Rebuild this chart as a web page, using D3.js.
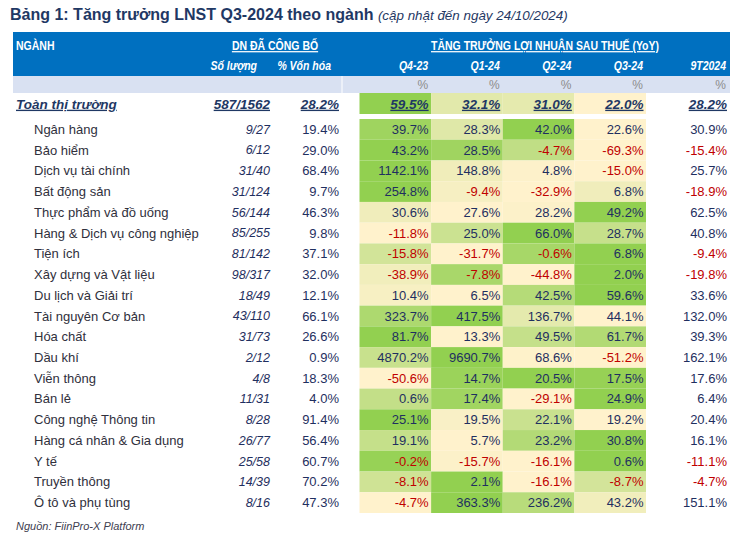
<!DOCTYPE html>
<html><head><meta charset="utf-8">
<script src="https://cdn.jsdelivr.net/npm/d3@7"></script>
<style>
body{margin:0;background:#fff}
text{font-family:"Liberation Sans",Arial,sans-serif}
.hd{font-weight:bold;fill:#fff}
</style>
</head><body>
<svg id="c" width="747" height="544"></svg>
<script>
const sectors=["Ngân hàng","Bảo hiểm","Dịch vụ tài chính","Bất động sản","Thực phẩm và đồ uống","Hàng & Dịch vụ công nghiệp","Tiện ích","Xây dựng và Vật liệu","Du lịch và Giải trí","Tài nguyên Cơ bản","Hóa chất","Dầu khí","Viễn thông","Bán lẻ","Công nghệ Thông tin","Hàng cá nhân & Gia dụng","Y tế","Truyền thông","Ô tô và phụ tùng"];
const counts=["9/27","6/12","31/40","31/124","56/144","85/255","81/142","98/317","18/49","43/110","31/73","2/12","4/8","11/31","8/28","26/77","25/58","14/39","8/16"];
const capShare=[19.4,29.0,68.4,9.7,46.3,9.8,37.1,32.0,12.1,66.1,26.6,0.9,18.3,4.0,91.4,56.4,60.7,70.2,47.3];
const periods=["Q4-23","Q1-24","Q2-24","Q3-24"];
const q423=[39.7,43.2,1142.1,254.8,30.6,-11.8,-15.8,-38.9,10.4,323.7,81.7,4870.2,-50.6,0.6,25.1,19.1,-0.2,-8.1,-4.7];
const q124=[28.3,28.5,148.8,-9.4,27.6,25.0,-31.7,-7.8,6.5,417.5,13.3,9690.7,14.7,17.4,19.5,5.7,-15.7,2.1,363.3];
const q224=[42.0,-4.7,4.8,-32.9,28.2,66.0,-0.6,-44.8,42.5,136.7,49.5,68.6,20.5,-29.1,22.1,23.2,-16.1,-16.1,236.2];
const q324=[22.6,-69.3,-15.0,6.8,49.2,28.7,6.8,2.0,59.6,44.1,61.7,-51.2,17.5,24.9,19.2,30.8,0.6,-8.7,43.2];
const y9t=[30.9,-15.4,25.7,-18.9,62.5,40.8,-9.4,-19.8,33.6,132.0,39.3,162.1,17.6,6.4,20.4,16.1,-11.1,-4.7,151.1];
const totalName="Toàn thị trường", totalCount="587/1562", totalCap=28.2;
const totalQ=[59.5,32.1,31.0,22.0], totalY9=28.2;

const svg=d3.select("#c");
const fmt=v=>v.toFixed(1)+"%";
const NAVY="#1F2F60", NEG="#C00000", NAME="#30303C";
const x=d3.scaleBand().domain(periods).range([359.5,646]);
const y=d3.scaleBand().domain(sectors).range([119,513]);
const cols=[q423,q124,q224,q324];

// title
const t=svg.append("text").attr("x",10).attr("y",20).style("font-size","16px");
t.append("tspan").attr("font-weight","bold").attr("fill","#1F3864").text("Bảng 1: Tăng trưởng LNST Q3-2024 theo ngành ");
t.append("tspan").attr("font-style","italic").attr("fill","#1F3864").style("font-size","13.4px").text("(cập nhật đến ngày 24/10/2024)");

// header band
svg.append("rect").attr("x",13).attr("y",32).attr("width",717).attr("height",44).attr("fill","#0070C0");
svg.append("rect").attr("x",13).attr("y",76).attr("width",717).attr("height",17).attr("fill","#D9E1F2");
svg.append("line").attr("x1",342).attr("x2",342).attr("y1",76).attr("y2",93).attr("stroke","#fff").attr("stroke-width",1);

function hdText(txt,xx,yy,anchor,opts){
  const g=svg.append("g").attr("transform",`translate(${xx},${yy}) scale(0.84,1)`);
  const tx=g.append("text").attr("class","hd").attr("text-anchor",anchor).style("font-size","12.5px").text(txt);
  if(opts&&opts.u) tx.style("text-decoration","underline");
  if(opts&&opts.i) tx.style("font-style","italic");
}
hdText("NGÀNH",16,50,"start");
hdText("DN ĐÃ CÔNG BỐ",275,50,"middle",{u:1});
hdText("TĂNG TRƯỞNG LỢI NHUẬN SAU THUẾ (YoY)",545,50,"middle",{u:1});

const sub=[["Số lượng",257],["% Vốn hóa",331]].concat(periods.map(p=>[p,x(p)+x.bandwidth()-3])).concat([["9T2024",726]]);
sub.forEach(d=>hdText(d[0],d[1],70,"end",{i:1}));

// % row
const pctX=periods.map(p=>x(p)+x.bandwidth()-3).concat([726]);
svg.selectAll("text.pct").data(pctX).join("text").attr("class","pct")
  .attr("x",d=>d).attr("y",89).attr("text-anchor","end").attr("fill","#8C8C8C").style("font-size","12px").text("%");

// total row
const totScale=d3.scaleLinear().domain(d3.extent(totalQ)).range(["#FFF2CC","#92D050"]).interpolate(d3.interpolateRgb);
svg.selectAll("rect.tot").data(totalQ).join("rect").attr("class","tot")
  .attr("x",(d,i)=>x(periods[i])).attr("y",93).attr("width",x.bandwidth()).attr("height",21)
  .attr("fill",d=>totScale(d));
const totTexts=[[totalName,16,"start"],[totalCount,270,"end"],[fmt(totalCap),339,"end"]]
  .concat(totalQ.map((v,i)=>[fmt(v),x(periods[i])+x.bandwidth()-2.5,"end"])).concat([[fmt(totalY9),727,"end"]]);
svg.selectAll("text.tt").data(totTexts).join("text").attr("class","tt")
  .attr("x",d=>d[1]).attr("y",104).attr("dy","0.35em").attr("text-anchor",d=>d[2])
  .attr("fill","#1F3864").attr("font-weight","bold").attr("font-style","italic")
  .style("font-size","13.5px").style("text-decoration","underline").text(d=>d[0]);

// data rows
const rows=svg.selectAll("g.row").data(sectors).join("g").attr("class","row")
  .attr("transform",d=>`translate(0,${y(d)})`);
const h=y.bandwidth();
rows.each(function(s,i){
  const g=d3.select(this);
  const vals=cols.map(c=>c[i]);
  const cs=d3.scaleLinear().domain(d3.extent(vals)).range(["#FFF2CC","#92D050"]).interpolate(d3.interpolateRgb);
  g.selectAll("rect").data(vals).join("rect")
    .attr("x",(d,j)=>x(periods[j])).attr("y",0).attr("width",x.bandwidth()).attr("height",h)
    .attr("fill",d=>cs(d));
  const cy=h/2;
  g.append("text").attr("x",34).attr("y",cy).attr("dy","0.35em").attr("fill",NAME).style("font-size","13px").text(s);
  g.append("text").attr("x",270).attr("y",cy).attr("dy","0.35em").attr("text-anchor","end").attr("fill",NAVY).attr("font-style","italic").style("font-size","12.5px").text(counts[i]);
  g.append("text").attr("x",339).attr("y",cy).attr("dy","0.35em").attr("text-anchor","end").attr("fill",NAVY).style("font-size","13px").text(fmt(capShare[i]));
  g.selectAll("text.v").data(vals).join("text").attr("class","v")
    .attr("x",(d,j)=>x(periods[j])+x.bandwidth()-2.5).attr("y",cy).attr("dy","0.35em").attr("text-anchor","end")
    .attr("fill",d=>d<0?NEG:NAVY).style("font-size","13px").text(fmt);
  g.append("text").attr("x",727).attr("y",cy).attr("dy","0.35em").attr("text-anchor","end")
    .attr("fill",y9t[i]<0?NEG:NAVY).style("font-size","13px").text(fmt(y9t[i]));
});

svg.append("text").attr("x",16).attr("y",530).attr("fill","#404050").attr("font-style","italic").style("font-size","11px").text("Nguồn: FiinPro-X Platform");
</script>
</body></html>
